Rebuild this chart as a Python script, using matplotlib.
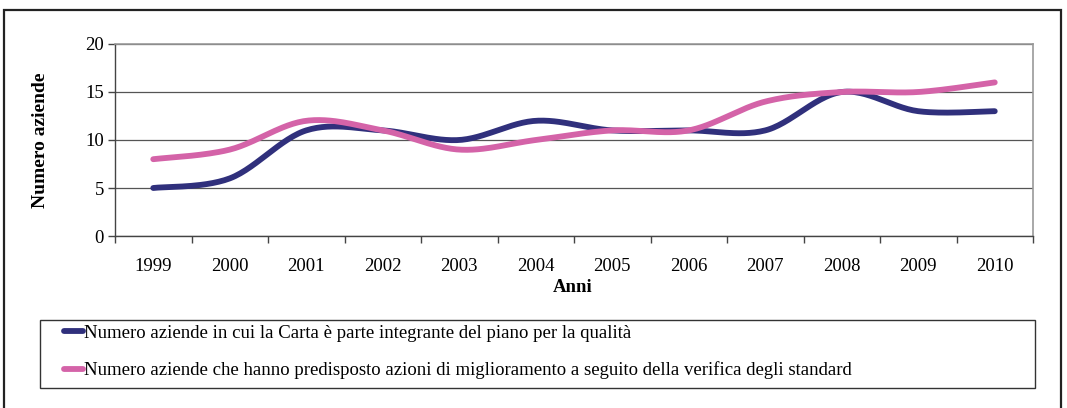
import numpy as np
import matplotlib.pyplot as plt
from matplotlib.patches import Rectangle

# Dati
anni = ['1999', '2000', '2001', '2002', '2003', '2004', '2005', '2006',
        '2007', '2008', '2009', '2010']
carta_piano_qualita = [5, 6, 11, 11, 10, 12, 11, 11, 11, 15, 13, 13]
azioni_miglioramento = [8, 9, 12, 11, 9, 10, 11, 11, 14, 15, 15, 16]

etichette = ['Numero aziende in cui la Carta è parte integrante del piano per la qualità',
             'Numero aziende che hanno predisposto azioni di miglioramento a seguito della verifica degli standard']
colori = ['#30307C', '#D463A8']


def curva_liscia(y, n=30):
    """Curva Catmull-Rom (come le linee smussate di Excel)."""
    y = np.asarray(y, dtype=float)
    x = np.arange(len(y), dtype=float)
    xs, ys = [], []
    for i in range(len(y) - 1):
        p0 = (x[max(i - 1, 0)], y[max(i - 1, 0)])
        p1 = (x[i], y[i])
        p2 = (x[i + 1], y[i + 1])
        p3 = (x[min(i + 2, len(y) - 1)], y[min(i + 2, len(y) - 1)])
        c1 = (p1[0] + (p2[0] - p0[0]) / 6, p1[1] + (p2[1] - p0[1]) / 6)
        c2 = (p2[0] - (p3[0] - p1[0]) / 6, p2[1] - (p3[1] - p1[1]) / 6)
        t = np.linspace(0, 1, n)
        b0, b1, b2, b3 = (1 - t)**3, 3 * t * (1 - t)**2, 3 * t**2 * (1 - t), t**3
        xs.append(b0 * p1[0] + b1 * c1[0] + b2 * c2[0] + b3 * p2[0])
        ys.append(b0 * p1[1] + b1 * c1[1] + b2 * c2[1] + b3 * p2[1])
    return np.concatenate(xs), np.concatenate(ys)


plt.rcParams['font.family'] = 'Liberation Serif'

fig = plt.figure(figsize=(10.67, 4.08), dpi=100)
ax = fig.add_axes([115 / 1067, 1 - 236 / 408, (1033 - 115) / 1067, (236 - 44) / 408])

linee = []
for serie, col, lab in zip([carta_piano_qualita, azioni_miglioramento], colori, etichette):
    xs, ys = curva_liscia(serie)
    l, = ax.plot(xs, ys, color=col, lw=4.2, solid_capstyle='round', label=lab)
    linee.append(l)

ax.set_xlim(-0.5, len(anni) - 0.5)
ax.set_ylim(0, 20)
ax.set_yticks([0, 5, 10, 15, 20])
ax.tick_params(axis='y', labelsize=13.5, length=5, width=1, color='#444444', pad=3)
ax.set_xticks(np.arange(-0.5, len(anni)))
ax.set_xticklabels([])
ax.set_xticks(np.arange(len(anni)), minor=True)
ax.set_xticklabels(anni, minor=True)
ax.tick_params(axis='x', which='major', length=5, width=1, color='#444444')
ax.tick_params(axis='x', which='minor', length=0, labelsize=13.5, pad=16)

ax.grid(axis='y', color='#555555', lw=0.9)
ax.set_axisbelow(True)
for s in ['top', 'right']:
    ax.spines[s].set_color('#999999')
    ax.spines[s].set_linewidth(1.2)
for s in ['left', 'bottom']:
    ax.spines[s].set_color('#444444')
    ax.spines[s].set_linewidth(1)

ax.set_ylabel('Numero aziende', fontsize=14, fontweight='bold', labelpad=26)
fig.text(573 / 1067, 1 - 287 / 408, 'Anni', fontsize=13.5, fontweight='bold',
         ha='center', va='center')

# Riquadro della legenda
fig.patches.append(Rectangle((40 / 1067, 1 - 388 / 408), 995 / 1067, 68 / 408,
                             transform=fig.transFigure, fill=False,
                             edgecolor='#333333', lw=1))
fig.legend(handles=linee, loc='center left',
           bbox_to_anchor=(47 / 1067, 1 - 352 / 408), frameon=False,
           fontsize=13.5, handlelength=1.0, handletextpad=0.1, labelspacing=1.05)

# Cornice esterna
fig.patches.append(Rectangle((4 / 1067, -0.05), 1057 / 1067, 1.05 - 10 / 408,
                             transform=fig.transFigure, fill=False,
                             edgecolor='#222222', lw=1.6))

fig.savefig('out.png', dpi=100)
